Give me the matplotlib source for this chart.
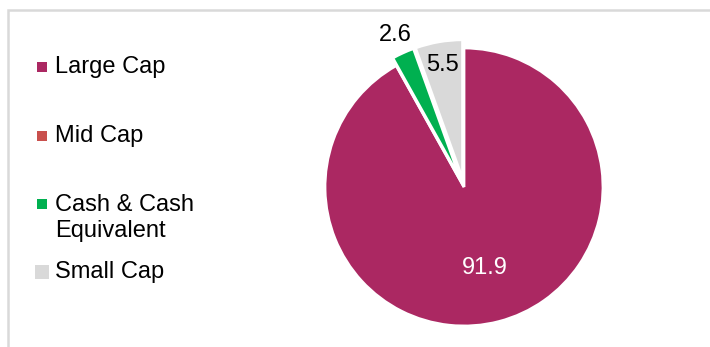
import matplotlib
matplotlib.use('Agg')
import numpy as np
from matplotlib import pyplot as plt
from matplotlib.patches import Rectangle

plt.rcParams['font.family'] = ['Liberation Sans', 'DejaVu Sans']

# data
categories = ['Large Cap', 'Mid Cap', 'Cash & Cash\nEquivalent', 'Small Cap']
values = [91.9, 0.0, 2.6, 5.5]
colors = ['#AB2862', '#C9504D', '#00B050', '#D9D9D9']

# layout of the slices and labels
explode = [0, 0, 0.06, 0.06]
label_dist = [0.6, 0.0, 1.2, 0.89]
label_colors = ['white', 'black', 'black', 'black']

# hand-drawn legend layout (figure pixels from top)
leg_y = [67, 136, 218, 272]
leg_msize = [6.5, 6.5, 6.5, 9.5]

W, H = 710, 347
fig = plt.figure(figsize=(W / 100, H / 100), dpi=100)

# light grey frame
fig.add_artist(Rectangle((8 / W, -0.1), 1.2, 1 - 10 / H + 0.1,
                         transform=fig.transFigure, fill=False,
                         edgecolor='#D9D9D9', linewidth=1.8))

cx, cy, r = 464, 187, 139
ax = fig.add_axes([(cx - r) / W, (H - cy - r) / H, 2 * r / W, 2 * r / H])
wedges, _ = ax.pie(values, colors=colors, startangle=90, counterclock=False,
                   explode=explode, radius=1,
                   wedgeprops=dict(edgecolor='white', linewidth=2))
ax.set_xlim(-1, 1)
ax.set_ylim(-1, 1)
ax.axis('off')

for w, v, d, c in zip(wedges, values, label_dist, label_colors):
    if v <= 0:
        continue
    ang = np.deg2rad((w.theta1 + w.theta2) / 2)
    ax.text(d * np.cos(ang), d * np.sin(ang), f'{v:.1f}', ha='center',
            va='center', fontsize=17, color=c)

# legend drawn by hand so the spacing matches
lax = fig.add_axes([0, 0, 1, 1])
lax.set_xlim(0, W)
lax.set_ylim(H, 0)
lax.axis('off')
for lab, col, y, ms in zip(categories, colors, leg_y, leg_msize):
    first_y = y - 14 if '\n' in lab else y
    lax.plot(42, first_y, 's', color=col, markersize=ms, markeredgewidth=0)
    lax.text(55, y, lab, fontsize=17, va='center', ha='left',
             linespacing=1.2)

fig.savefig('out.png', dpi=100)
